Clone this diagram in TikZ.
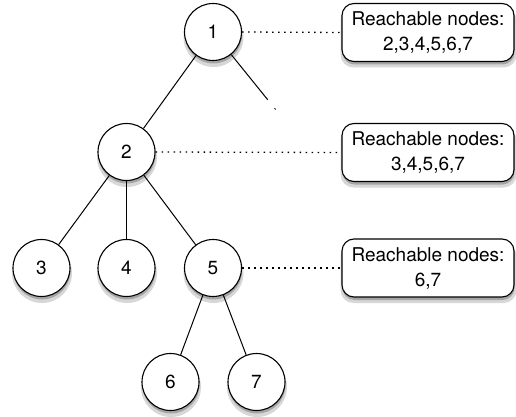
\documentclass[tikz,border=0pt]{standalone}
\usepackage{fontspec}
\setmainfont{TeX Gyre Heros}

\definecolor{shadowlight}{RGB}{215,215,215}
\definecolor{shadowdark}{RGB}{165,165,165}

\tikzset{
  tnode/.style={circle, draw, fill=white, line width=1.1pt, minimum size=57pt, inner sep=0pt,
    font=\fontsize{19}{23}\selectfont},
  infobox/.style={rectangle, rounded corners=12pt, draw, fill=white, line width=1.1pt,
    minimum width=172pt, minimum height=58pt, inner sep=2pt, align=center,
    font=\fontsize{19}{25}\selectfont},
  shade1/.style={fill=shadowlight},
  shade2/.style={fill=shadowdark},
  reach/.style={line width=1.3pt, dash pattern=on 1.5pt off 4.5pt},
  edge/.style={line width=1pt},
}

\begin{document}
\begin{tikzpicture}[x=1pt,y=-1pt]
\useasboundingbox (0,0) rectangle (516,417);

% shadows
\foreach \p in {(213,32),(126.5,152),(41.5,268),(126.5,268),(213,268),(170.5,382),(256.5,382)} {
  \fill[shade1] \p ++(0.5,5) circle (30pt);
  \fill[shade2] \p ++(0.5,3) circle (28.5pt);
}
\foreach \p in {(428,32.5),(428,152.5),(428,268)} {
  \fill[shade1, rounded corners=13pt] \p ++(-87.5,-25) rectangle ++(176,60);
  \fill[shade2, rounded corners=12pt] \p ++(-85.5,-26) rectangle ++(172,58);
}

% tree
\node[tnode] (n1) at (213,32) {1};
\node[tnode] (n2) at (126.5,152) {2};
\node[tnode] (n3) at (41.5,268) {3};
\node[tnode] (n4) at (126.5,268) {4};
\node[tnode] (n5) at (213,268) {5};
\node[tnode] (n6) at (170.5,382) {6};
\node[tnode] (n7) at (256.5,382) {7};
\coordinate (stub) at (276,110);

\draw[edge] (n1) -- (n2);
\draw[edge, dash pattern=on 58pt off 11pt on 1.5pt off 20pt] (n1) -- (stub);
\draw[edge] (n2) -- (n3);
\draw[edge] (n2) -- (n4);
\draw[edge] (n2) -- (n5);
\draw[edge] (n5) -- (n6);
\draw[edge] (n5) -- (n7);

% reachable sets
\node[infobox] (b1) at (428,32.5) {Reachable nodes:\\2,3,4,5,6,7};
\node[infobox] (b2) at (428,152.5) {Reachable nodes:\\3,4,5,6,7};
\node[infobox] (b3) at (428,268) {Reachable nodes:\\6,7};

\draw[reach] (n1.east) -- (b1.west);
\draw[reach] (n2.east) -- (b2.west);
\draw[reach] (n5.east) -- (b3.west);
\end{tikzpicture}
\end{document}
